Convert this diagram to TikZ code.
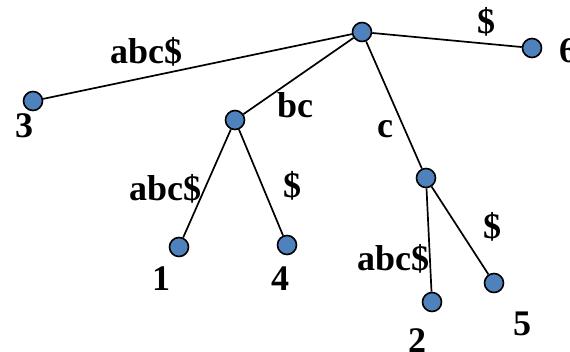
\documentclass[tikz,border=0pt]{standalone}
\usepackage{fontspec}
\setmainfont{Liberation Serif}
\definecolor{nodeblue}{RGB}{79,129,189}
\begin{document}
\begin{tikzpicture}[x=1pt,y=-1pt,
  vtx/.style={circle,draw=black,fill=nodeblue,line width=1.6pt,minimum size=19pt,inner sep=0pt},
  edge/.style={line width=1.7pt,black},
  lbl/.style={anchor=base west,inner sep=0pt,font=\fontsize{36}{40}\selectfont\bfseries}]
\useasboundingbox (0,0) rectangle (570,351);
% vertices
\node[vtx] (r) at (362,32) {};
\node[vtx] (v6) at (532,48) {};
\node[vtx] (v3) at (33,101) {};
\node[vtx] (bc) at (235,120) {};
\node[vtx] (c) at (426,178) {};
\node[vtx] (v1) at (179,247) {};
\node[vtx] (v4) at (287,245) {};
\node[vtx] (v2) at (432,302) {};
\node[vtx] (v5) at (494,283) {};
% edges
\draw[edge] (r) -- (v6);
\draw[edge] (r) -- (v3);
\draw[edge] (r) -- (bc);
\draw[edge] (r) -- (c);
\draw[edge] (bc) -- (v1);
\draw[edge] (bc) -- (v4);
\draw[edge] (c) -- (v2);
\draw[edge] (c) -- (v5);
% labels
\node[lbl] (l1) at (110,63) {abc\$};
\node[lbl] (l2) at (477,33) {\$};
\node[lbl] (l3) at (559,62) {6};
\node[lbl] (l4) at (15,137) {3};
\node[lbl] (l5) at (277,117) {bc};
\node[lbl] (l6) at (377,137) {c};
\node[lbl] (l7) at (129,200) {abc\$};
\node[lbl] (l8) at (283,197) {\$};
\node[lbl] (l9) at (152,290) {1};
\node[lbl] (l10) at (271,290) {4};
\node[lbl] (l11) at (357,270) {abc\$};
\node[lbl] (l12) at (483,238) {\$};
\node[lbl] (l13) at (408,352) {2};
\node[lbl] (l14) at (513,335) {5};
\end{tikzpicture}
\end{document}
